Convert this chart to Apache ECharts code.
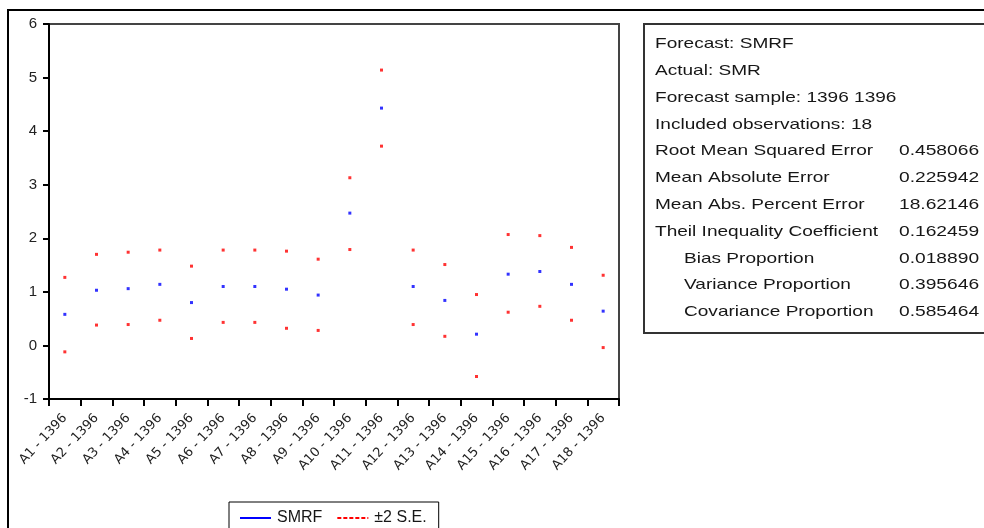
<!DOCTYPE html>
<html>
<head>
<meta charset="utf-8">
<script src="https://cdn.jsdelivr.net/npm/echarts@6/dist/echarts.min.js"></script>
<style>
html,body{margin:0;padding:0;background:#fff;}
#c{width:984px;height:528px;}
</style>
</head>
<body>
<div id="c"></div>
<script>
var categories = ['A1 - 1396','A2 - 1396','A3 - 1396','A4 - 1396','A5 - 1396','A6 - 1396','A7 - 1396','A8 - 1396','A9 - 1396',
  'A10 - 1396','A11 - 1396','A12 - 1396','A13 - 1396','A14 - 1396','A15 - 1396','A16 - 1396','A17 - 1396','A18 - 1396'];
var smrf  = [0.58, 1.03, 1.06, 1.14, 0.80, 1.10, 1.10, 1.05, 0.94, 2.47, 4.43, 1.10, 0.84, 0.21, 1.33, 1.38, 1.14, 0.64];
var upper = [1.27, 1.70, 1.74, 1.78, 1.48, 1.78, 1.78, 1.76, 1.61, 3.13, 5.14, 1.78, 1.51, 0.95, 2.07, 2.05, 1.83, 1.31];
var lower = [-0.12, 0.38, 0.39, 0.47, 0.13, 0.43, 0.43, 0.32, 0.28, 1.79, 3.72, 0.39, 0.17, -0.58, 0.62, 0.73, 0.47, -0.04];
var yTicks = [-1, 0, 1, 2, 3, 4, 5, 6];

var statLabels = ['Forecast: SMRF','Actual: SMR','Forecast sample: 1396 1396','Included observations: 18',
  'Root Mean Squared Error','Mean Absolute Error','Mean Abs. Percent Error','Theil Inequality Coefficient',
  'Bias Proportion','Variance Proportion','Covariance Proportion'];
var statValues = ['','','','','0.458066','0.225942','18.62146','0.162459','0.018890','0.395646','0.585464'];
var statIndent = [false,false,false,false,false,false,false,false,true,true,true];

var chart = echarts.init(document.getElementById('c'), null, {renderer:'canvas'});

var graphics = [
  {type:'rect', shape:{x:8, y:10, width:1000, height:600}, style:{fill:'none', stroke:'#000', lineWidth:2}, z:-1},
  {type:'rect', shape:{x:644, y:24, width:400, height:309}, style:{fill:'#fff', stroke:'#333', lineWidth:2}}
];
for (var i = 0; i < statLabels.length; i++) {
  var yy = 44 + 26.8 * i;
  graphics.push({type:'text', x: statIndent[i] ? 684 : 655, y: yy, scaleX:1.27,
    style:{text: statLabels[i], font:'15px "Liberation Sans", Arial, sans-serif', fill:'#161616', textVerticalAlign:'middle', textAlign:'left'}});
  if (statValues[i]) {
    graphics.push({type:'text', x: 899, y: yy, scaleX:1.28,
      style:{text: statValues[i], font:'15px "Liberation Sans", Arial, sans-serif', fill:'#161616', textVerticalAlign:'middle', textAlign:'left'}});
  }
}

var option = {
  animation:false,
  backgroundColor:'#fff',
  grid:{left:49, top:24, width:570, height:375, show:true, borderColor:'#444', borderWidth:2, backgroundColor:'#fff'},
  legend:{
    data:['SMRF','±2 S.E.'],
    left:229, top:502,
    borderColor:'#000', borderWidth:1, backgroundColor:'#fff',
    padding:[8,12,14,10],
    itemWidth:31, itemHeight:14, itemGap:14,
    itemStyle:{opacity:0, color:'rgba(0,0,0,0)', borderWidth:0},
    textStyle:{fontFamily:'"Liberation Sans", Arial, sans-serif', fontSize:16, color:'#161616', padding:[0,0,0,1]}
  },
  xAxis:{
    type:'category', data:categories, boundaryGap:true,
    axisLine:{onZero:false, lineStyle:{color:'#000', width:2}},
    axisTick:{show:true, length:7, lineStyle:{color:'#000', width:2}},
    axisLabel:{rotate:47, margin:17, interval:0, fontFamily:'"DejaVu Sans", sans-serif', fontSize:13, color:'#222'},
    splitLine:{show:false}
  },
  yAxis:{
    type:'value', min:yTicks[0], max:yTicks[yTicks.length-1], interval:1,
    axisLine:{show:true, lineStyle:{color:'#000', width:2}},
    axisTick:{show:true, length:6, lineStyle:{color:'#000', width:2}},
    axisLabel:{margin:12, fontFamily:'"Liberation Sans", Arial, sans-serif', fontSize:15, color:'#222'},
    splitLine:{show:false}
  },
  series:[
    {name:'SMRF', type:'line', data:[], symbol:'none', lineStyle:{color:'#0000ff', width:2}, itemStyle:{color:'#0000ff'}},
    {name:'±2 S.E.', type:'line', data:[], symbol:'none', lineStyle:{color:'#ff0000', width:2, type:[4,2]}, itemStyle:{color:'#ff0000'}},
    {name:'smrf_pts', type:'scatter', data:smrf, symbol:'rect', symbolSize:3, itemStyle:{color:'#0000ff'}},
    {name:'upper_pts', type:'scatter', data:upper, symbol:'rect', symbolSize:3, itemStyle:{color:'#ff0000'}},
    {name:'lower_pts', type:'scatter', data:lower, symbol:'rect', symbolSize:3, itemStyle:{color:'#ff0000'}}
  ],
  graphic: graphics
};
chart.setOption(option);
</script>
</body>
</html>
